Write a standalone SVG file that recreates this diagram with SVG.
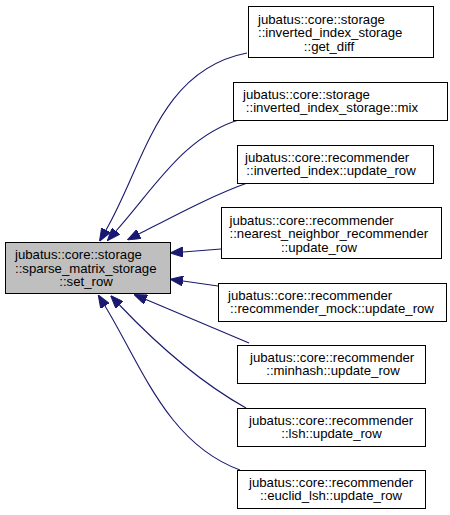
<svg xmlns="http://www.w3.org/2000/svg" width="450" height="515" viewBox="0 0 450 515">
<style>
  .node rect { fill: #ffffff; stroke: #000000; stroke-width: 1; }
  .node.main rect { fill: #bfbfbf; }
  .node text { font-family: "Liberation Sans", Arial, Helvetica, sans-serif; font-size: 13.2px; fill: #000000; }
  .node text.c { text-anchor: middle; }
  #edges path { fill: none; stroke: #191970; stroke-width: 1.1; marker-end: url(#ah); }
</style>
<defs>
  <marker id="ah" markerUnits="userSpaceOnUse" viewBox="0 0 13 10" markerWidth="13" markerHeight="10" refX="0" refY="5" orient="auto">
    <path d="M0,0 L13,5 L0,10 Z" fill="#191970" stroke="#191970" stroke-width="1"/>
  </marker>
</defs>
<rect x="0" y="0" width="450" height="515" fill="#ffffff"/>
<g id="edges">
  <path d="M247,53 C158.5,70 143.9,164.6 106,230"/>
  <path d="M242,119 C184.7,134.6 153.5,189.3 116,231"/>
  <path d="M250,182 C213,195 176,215 139,234"/>
  <path d="M221,249 L183,252"/>
  <path d="M218,286 L183,281"/>
  <path d="M249,343 L146,299.5"/>
  <path d="M246,408 C198.6,381.5 156.7,344.1 119.5,305"/>
  <path d="M240,470 C167.6,443.7 141.5,365.9 105,306"/>
</g>
<g id="node_main" class="node main">
  <rect x="5.5" y="242.5" width="165" height="51"/>
  <text x="15" y="259">jubatus::core::storage</text>
  <text x="15" y="272.5">::sparse_matrix_storage</text>
  <text class="c" x="86" y="286">::set_row</text>
</g>
<g id="node_get_diff" class="node">
  <rect x="248.5" y="6.5" width="185" height="51"/>
  <text x="258" y="23.5">jubatus::core::storage</text>
  <text x="258" y="37">::inverted_index_storage</text>
  <text class="c" x="329" y="50.5">::get_diff</text>
</g>
<g id="node_mix" class="node">
  <rect x="233.5" y="82.5" width="214" height="38"/>
  <text x="243" y="98.5">jubatus::core::storage</text>
  <text class="c" x="332" y="112">::inverted_index_storage::mix</text>
</g>
<g id="node_inverted_index" class="node">
  <rect x="237.5" y="145.5" width="196" height="38"/>
  <text x="245" y="161.5">jubatus::core::recommender</text>
  <text class="c" x="331" y="175">::inverted_index::update_row</text>
</g>
<g id="node_nearest_neighbor" class="node">
  <rect x="221.5" y="207.5" width="220" height="51"/>
  <text x="229.5" y="224.5">jubatus::core::recommender</text>
  <text x="229.5" y="238">::nearest_neighbor_recommender</text>
  <text class="c" x="319" y="251.5">::update_row</text>
</g>
<g id="node_recommender_mock" class="node">
  <rect x="218.5" y="283.5" width="228" height="38"/>
  <text x="228" y="299.5">jubatus::core::recommender</text>
  <text class="c" x="332" y="313">::recommender_mock::update_row</text>
</g>
<g id="node_minhash" class="node">
  <rect x="237.5" y="345.5" width="188" height="38"/>
  <text x="250" y="361.5">jubatus::core::recommender</text>
  <text class="c" x="333" y="375">::minhash::update_row</text>
</g>
<g id="node_lsh" class="node">
  <rect x="237.5" y="408.5" width="188" height="38"/>
  <text x="249" y="424.5">jubatus::core::recommender</text>
  <text class="c" x="331.5" y="438">::lsh::update_row</text>
</g>
<g id="node_euclid_lsh" class="node">
  <rect x="237.5" y="470.5" width="188" height="38"/>
  <text x="249" y="486.5">jubatus::core::recommender</text>
  <text class="c" x="331" y="500">::euclid_lsh::update_row</text>
</g>
</svg>
